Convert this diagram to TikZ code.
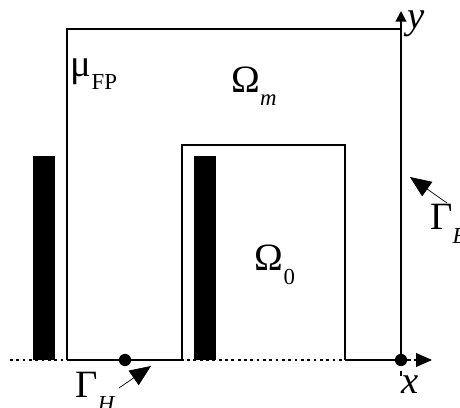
\documentclass[tikz,border=0pt]{standalone}
\usepackage{fontspec}
\setmainfont{Liberation Serif}
\usetikzlibrary{arrows.meta,positioning}
\tikzset{bord/.style={line width=1.1pt},
	barre/.style={fill=black},
	pt/.style={circle,fill=black,inner sep=0pt,minimum size=7pt},
	lab/.style={inner sep=0pt}}
\newcommand{\indice}[1]{\raisebox{-0.35em}{\fontsize{13}{13}\selectfont #1}}

\begin{document}
\begin{tikzpicture}[x=0.02cm,y=-0.02cm,font=\fontsize{22}{26}\selectfont]
	\useasboundingbox (0,0) rectangle (460,408);
	\coordinate (O) at (401,360);
	% axes
	\draw[line width=1.6pt,dotted](10,360)--(415,360);
	\draw[line width=1.6pt,dotted,-{Triangle[length=9pt,width=8pt,line width=0pt]}](O)--(432,360);
	\draw[bord,-{Triangle[length=6pt,width=6pt]}](O)--(401,11);
	\draw[line width=1.6pt,dashed](O)--(401,378);
	% domaines
	\draw[bord](67,360)--(67,29)--(401,29);
	\draw[bord](182,360)--(182,145)--(345,145)--(345,360);
	\draw[bord](67,360)--(182,360);
	\draw[bord](345,360)--(O);
	\fill[barre](33,156) rectangle (55,360);
	\fill[barre](194,156) rectangle (216,360);
	\node[pt] (h) at (125,360) {};
	\node[pt] at (O) {};
	% textes
	\node[lab] (ly) at (416,24){\itshape y};
	\node[lab] (lx) at (410,385){\itshape x};
	\node[lab] (mu) at (94,74){μ\indice{FP}};
	\node[lab] (om) at (254,86){Ω\indice{\itshape m}};
	\node[lab] (o0) at (275,265){Ω\indice{0}};
	\node[lab,anchor=west] (ge) at (430,224){Γ\indice{\itshape E}};
	\node[lab] (gh) at (95,392){Γ\indice{\itshape H}};
	\coordinate (ce) at (410,177);
	\coordinate (ch) at (151,366);
	\draw[thin,-{Triangle[length=12pt,width=10pt]}](447,203)--(ce);
	\draw[thin,-{Triangle[length=12pt,width=10pt]}](119,388)--(ch);
\end{tikzpicture}
\end{document}
